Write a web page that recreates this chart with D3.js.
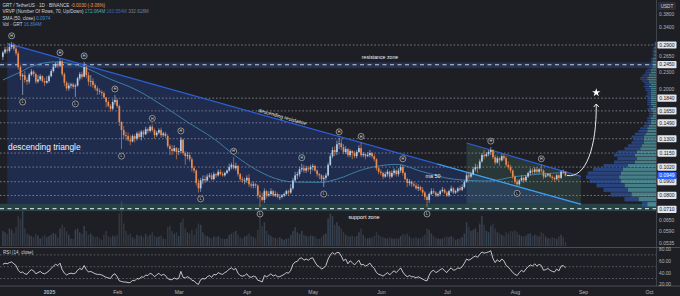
<!DOCTYPE html>
<html><head><meta charset="utf-8">
<script src="https://cdn.jsdelivr.net/npm/d3@7"></script>
<style>
html,body{margin:0;padding:0;background:#1e1f24;}
svg{display:block;font-family:"Liberation Sans",Arial,sans-serif;}
</style></head><body>
<svg id="c" width="680" height="296"></svg>
<script>
// ---------------- DATA ----------------
const startDate = "2024-12-11";
const firstOpen = 0.262;
const closes = [
0.272,0.279,0.276,0.285,0.290,0.281,0.270,0.240,0.222,0.224,0.215,0.212,0.225,0.231,0.226,0.212,0.216,0.222,0.213,0.210,0.213,
0.222,0.232,0.241,0.247,0.243,0.252,0.226,0.210,0.200,0.205,0.207,0.203,0.205,0.218,0.226,0.221,0.240,0.224,0.212,0.213,0.206,0.200,0.196,0.194,0.192,0.185,0.178,0.172,0.168,0.178,0.181,
0.172,0.150,0.140,0.134,0.133,0.129,0.127,0.133,0.130,0.136,0.132,0.138,0.135,0.141,0.139,0.144,0.140,0.134,0.137,0.140,0.134,0.136,0.133,0.122,0.119,0.117,0.120,0.116,
0.117,0.129,0.115,0.112,0.113,0.109,0.101,0.099,0.089,0.085,0.091,0.092,0.091,0.094,0.095,0.092,0.096,0.095,0.098,0.096,0.095,0.097,0.099,0.102,0.104,0.101,0.103,0.096,0.092,0.091,0.091,
0.093,0.088,0.087,0.088,0.087,0.080,0.079,0.077,0.083,0.080,0.081,0.083,0.080,0.081,0.079,0.079,0.080,0.081,0.083,0.082,0.085,0.091,0.095,0.096,0.100,0.101,0.099,0.101,0.100,0.102,
0.103,0.099,0.096,0.095,0.092,0.093,0.095,0.104,0.112,0.118,0.116,0.124,0.125,0.121,0.116,0.119,0.113,0.117,0.115,0.112,0.116,0.120,0.113,0.114,0.112,0.113,0.115,0.112,0.109,0.101,0.098,
0.097,0.094,0.096,0.098,0.094,0.097,0.099,0.096,0.099,0.102,0.097,0.092,0.089,0.090,0.088,0.087,0.085,0.086,0.084,0.082,0.079,0.077,0.081,0.083,0.082,0.080,0.081,0.083,0.084,0.082,
0.080,0.083,0.085,0.082,0.083,0.085,0.084,0.086,0.090,0.095,0.094,0.096,0.100,0.102,0.101,0.107,0.113,0.112,0.114,0.116,0.118,0.111,0.106,0.110,0.108,0.112,0.110,0.104,0.102,0.099,0.094,
0.090,0.088,0.091,0.093,0.091,0.094,0.097,0.099,0.098,0.100,0.098,0.100,0.099,0.094,0.095,0.096,0.094,0.093,0.092,0.095,0.093,0.098,0.0979,0.0949];
const highs = [
0.276,0.285,0.287,0.293,0.298,0.295,0.289,0.275,0.245,0.228,0.232,0.220,0.228,0.236,0.234,0.229,0.224,0.226,0.224,0.219,0.222,
0.225,0.236,0.245,0.250,0.252,0.258,0.256,0.229,0.213,0.210,0.210,0.210,0.208,0.221,0.230,0.231,0.251,0.243,0.230,0.224,0.218,0.209,0.204,0.200,0.197,0.195,0.186,0.181,0.175,0.182,0.189,
0.184,0.174,0.151,0.145,0.138,0.137,0.134,0.135,0.135,0.138,0.139,0.140,0.140,0.144,0.143,0.146,0.147,0.142,0.139,0.142,0.143,0.138,0.138,0.135,0.124,0.123,0.123,0.121,
0.120,0.132,0.130,0.117,0.116,0.116,0.111,0.103,0.100,0.092,0.093,0.095,0.095,0.096,0.097,0.097,0.098,0.097,0.100,0.100,0.098,0.098,0.100,0.105,0.106,0.111,0.106,0.104,0.097,0.094,0.093,
0.095,0.096,0.090,0.090,0.089,0.088,0.083,0.082,0.085,0.084,0.083,0.085,0.084,0.083,0.082,0.081,0.081,0.082,0.084,0.084,0.088,0.093,0.098,0.098,0.102,0.105,0.104,0.103,0.103,0.104,
0.105,0.104,0.100,0.097,0.096,0.095,0.097,0.106,0.115,0.121,0.122,0.128,0.131,0.130,0.124,0.122,0.120,0.119,0.118,0.117,0.118,0.123,0.126,0.116,0.115,0.116,0.118,0.116,0.114,0.110,0.102,
0.100,0.098,0.098,0.100,0.099,0.099,0.101,0.100,0.101,0.104,0.104,0.098,0.093,0.092,0.091,0.090,0.089,0.088,0.087,0.086,0.083,0.080,0.082,0.085,0.085,0.083,0.082,0.084,0.086,0.085,
0.083,0.084,0.087,0.086,0.084,0.086,0.087,0.088,0.091,0.097,0.098,0.098,0.102,0.105,0.104,0.109,0.115,0.118,0.116,0.118,0.121,0.119,0.113,0.112,0.111,0.114,0.114,0.112,0.107,0.104,0.100,
0.095,0.092,0.092,0.095,0.094,0.095,0.098,0.101,0.101,0.102,0.102,0.101,0.104,0.100,0.097,0.097,0.097,0.095,0.094,0.096,0.096,0.099,0.100,0.0985];
const lows = [
0.255,0.268,0.270,0.272,0.280,0.276,0.265,0.235,0.215,0.189,0.210,0.206,0.208,0.222,0.221,0.208,0.209,0.213,0.210,0.204,0.208,
0.210,0.220,0.229,0.238,0.238,0.240,0.222,0.204,0.196,0.196,0.200,0.199,0.186,0.203,0.214,0.216,0.220,0.218,0.205,0.203,0.201,0.196,0.189,0.190,0.187,0.183,0.170,0.170,0.164,0.166,0.174,
0.169,0.145,0.119,0.130,0.128,0.127,0.123,0.126,0.126,0.128,0.130,0.128,0.131,0.134,0.136,0.137,0.138,0.130,0.132,0.135,0.131,0.132,0.131,0.120,0.113,0.113,0.116,0.109,
0.113,0.115,0.113,0.104,0.109,0.107,0.098,0.097,0.087,0.082,0.0825,0.088,0.089,0.090,0.093,0.091,0.091,0.093,0.094,0.095,0.094,0.094,0.096,0.098,0.100,0.100,0.099,0.094,0.090,0.089,0.088,
0.089,0.086,0.085,0.085,0.085,0.078,0.0725,0.076,0.075,0.078,0.079,0.080,0.079,0.079,0.078,0.077,0.078,0.079,0.080,0.080,0.081,0.084,0.090,0.092,0.094,0.098,0.097,0.097,0.098,0.096,
0.099,0.098,0.094,0.092,0.090,0.086,0.091,0.094,0.103,0.110,0.112,0.113,0.119,0.118,0.114,0.114,0.111,0.111,0.109,0.110,0.110,0.115,0.111,0.111,0.109,0.111,0.111,0.110,0.107,0.099,0.096,
0.095,0.092,0.093,0.094,0.092,0.093,0.095,0.094,0.094,0.097,0.095,0.091,0.086,0.087,0.086,0.086,0.084,0.083,0.083,0.080,0.077,0.0725,0.075,0.080,0.081,0.079,0.079,0.080,0.082,0.081,
0.079,0.079,0.082,0.081,0.081,0.082,0.083,0.083,0.085,0.089,0.092,0.093,0.095,0.098,0.097,0.100,0.106,0.109,0.111,0.112,0.113,0.109,0.104,0.105,0.103,0.107,0.108,0.102,0.100,0.097,0.092,
0.088,0.0865,0.087,0.090,0.089,0.090,0.093,0.095,0.096,0.096,0.096,0.096,0.097,0.092,0.093,0.094,0.093,0.091,0.090,0.091,0.090,0.092,0.096,0.094];
const volumes = [ // millions
60,55,48,70,65,52,75,120,110,140,70,50,45,40,35,48,42,30,38,45,35,
40,45,52,48,35,70,85,75,60,45,30,28,65,70,55,48,80,60,45,50,40,35,38,30,25,45,60,40,35,42,38,
45,130,180,90,60,45,50,35,30,45,40,42,35,48,38,45,55,40,35,38,42,30,28,75,80,60,50,55,
40,95,110,70,55,50,65,45,70,90,85,55,45,40,35,30,38,35,40,32,30,28,30,45,50,55,60,45,35,30,38,
42,50,40,35,30,65,130,80,95,60,45,40,35,32,30,35,28,25,30,32,45,60,75,55,48,60,45,40,38,42,
40,38,30,28,35,45,50,110,130,120,85,95,80,70,55,45,40,38,42,35,40,55,70,45,35,30,32,35,40,55,45,
38,35,32,30,35,30,28,32,30,40,48,45,50,38,30,32,35,30,32,38,45,70,65,50,40,32,30,28,30,35,
38,35,40,32,25,28,30,35,50,95,75,60,65,70,55,90,120,85,60,55,80,90,70,55,50,45,40,55,50,60,58,
62,55,45,40,38,42,48,50,40,45,42,38,55,50,38,32,30,35,32,28,38,45,35,17];
const rsiValues = [
54,56,55,57,58,55,52,44,40,41,38,37,42,45,43,38,40,42,39,38,40,
43,47,51,54,52,56,45,39,36,38,39,38,39,44,47,45,52,45,41,42,40,38,37,37,36,34,32,31,30,36,38,
33,26,25,24,24,23,23,27,26,30,29,33,32,36,35,39,37,33,36,39,35,37,35,30,28,28,31,29,
30,42,32,31,33,31,27,26,22,20,28,30,29,33,35,32,37,36,40,38,37,40,42,46,48,45,47,39,35,34,35,
38,33,32,34,33,27,26,24,35,33,35,38,34,36,33,33,35,37,40,39,44,54,58,59,64,65,61,63,61,64,
65,58,52,50,46,48,52,63,70,74,71,74,74,68,60,63,55,60,57,53,57,61,53,54,51,53,56,51,47,40,37,
36,34,37,40,36,40,43,40,44,48,41,36,33,35,33,33,31,33,31,29,27,26,36,42,44,40,42,45,47,43,
40,45,48,44,45,48,47,50,56,63,61,63,66,68,66,71,75,73,74,75,77,64,57,62,58,63,60,52,49,45,40,
37,35,40,44,41,46,50,53,51,55,51,54,52,44,45,47,44,42,41,46,43,51,52,48];
const smaDates = ["2024-12-11","2024-12-18","2024-12-25","2025-01-04","2025-01-16","2025-01-28","2025-02-10","2025-02-23","2025-03-05","2025-03-17","2025-03-27","2025-04-05","2025-04-17","2025-04-23","2025-05-05","2025-05-12","2025-05-24","2025-06-08","2025-06-20","2025-07-04","2025-07-20","2025-08-01","2025-08-12","2025-08-24"];
const smaValues = [0.215,0.228,0.243,0.251,0.241,0.218,0.197,0.170,0.150,0.130,0.112,0.100,0.091,0.0897,0.0895,0.092,0.100,0.1044,0.098,0.092,0.0905,0.094,0.096,0.0974];

const boxedLevels = [0.2900,0.2450,0.1840,0.1650,0.1490,0.1300,0.1150,0.1020,0.0900,0.0800,0.0710];
const dottedLevels = [0.2900,0.1840,0.1650,0.1490,0.1300,0.1150,0.1020,0.0900,0.0800];
const priceTicks = [0.3800,0.3400,0.2650,0.2300,0.2000,0.0650,0.0590,0.0535];
const resistanceZone = [0.2500,0.2380,0.2450];   // top, bottom, line
const supportZone = [0.0745,0.0700,0.0715];
const lastPrice = 0.0949;

const monthTicks = ["2025-01-01","2025-02-01","2025-03-01","2025-04-01","2025-05-01","2025-06-01","2025-07-01","2025-08-01","2025-09-01","2025-10-01"];
const monthLabels = ["2025","Feb","Mar","Apr","May","Jun","Jul","Aug","Sep","Oct"];
const rsiTicks = [80,60,40,20];
const rsiBands = [70,50,30];

const highMarks = ["2024-12-15","2025-01-06","2025-01-17","2025-01-31","2025-02-17","2025-03-02","2025-03-26","2025-04-26","2025-05-13","2025-05-23","2025-06-11","2025-07-21","2025-08-13"];
const lowMarks = ["2024-12-20","2025-01-13","2025-02-03","2025-03-11","2025-04-07","2025-05-06","2025-06-22","2025-08-02"];

const resistanceLine = [["2024-12-13",0.294],["2025-08-31",0.0742]];
const wedgeTop = [["2025-07-10",0.1253],["2025-08-31",0.0942]];
const arrowTarget = ["2025-09-07",0.175];
const starPoint = ["2025-09-07",0.193];

const vpBase = 0.0725, vpStep = 0.00322;
const vpUp = [5,10,14,16,18,20,21,20,19,16,12,11,12,11,9,8,7,7,7,6,5,5,4,3,3,3,2,2,2,3,2,3,3,3,3,3,3,3,3,3,4,3,4,4,5,5,4,4,3,3,3,2,2,2,2,2,2,2,1,1,1,1,1,1,1,1,0.5,0.5,0.5,0.5];
const vpDown = [3,8,12,14,16,18,19,19,17,14,12,11,12,11,9,8,7,6,7,6,5,4,3,3,2,2,2,2,2,2,2,2,2,2,2,3,2,2,3,3,3,3,3,4,4,4,4,3,3,3,2,2,2,2,1,1,1,1,1,1,1,1,1,1,1,0.5,0.5,0.5,0.5,0.5];

// ---------------- CHART ----------------
const svg = d3.select("#c");
const W = 680, H = 296, PANE_R = 656, MAIN_B = 247.5, RSI_B = 286;
const parse = d3.timeParse("%Y-%m-%d");
const t0 = parse(startDate);
const x = d3.scaleTime().domain([parse("2025-01-01"), parse("2025-10-01")]).range([49, 649]);
const y = d3.scaleLog().domain([0.29, 0.071]).range([45, 209.4]);
const yVol = d3.scaleLinear().domain([0, 160]).range([246, 206]);
const yRsi = d3.scaleLinear().domain([20, 80]).range([284.4, 249]);
const xVp = d3.scaleLinear().domain([0, 40]).range([0, 70]);

const candles = closes.map((c, i) => ({
  date: d3.timeDay.offset(t0, i), o: i === 0 ? firstOpen : closes[i - 1],
  h: highs[i], l: lows[i], c, v: volumes[i], r: rsiValues[i]
}));
const byKey = new Map(candles.map(d => [d3.timeFormat("%Y-%m-%d")(d.date), d]));

svg.append("rect").attr("width", W).attr("height", H).attr("fill", "#1e1f24");
svg.append("defs").append("clipPath").attr("id", "mainClip")
  .append("rect").attr("x", 0).attr("y", 0).attr("width", PANE_R).attr("height", MAIN_B);
const main = svg.append("g").attr("clip-path", "url(#mainClip)");

const P = ([d, p]) => [x(parse(d)), y(p)];
const rA = P(resistanceLine[0]), rB = P(resistanceLine[1]);
const wA = P(wedgeTop[0]), wB = P(wedgeTop[1]);
const ySupTop = y(supportZone[0]);

// triangle fill
main.append("path")
  .attr("d", `M${rA[0]},${rA[1]}L${rB[0]},${rB[1]}L${rB[0]},${ySupTop}L${rA[0]},${ySupTop}Z`)
  .attr("fill", "rgba(36,72,165,0.33)");
// wedge fill
main.append("path")
  .attr("d", `M${wA[0]},${wA[1]}L${wB[0]},${wB[1]}L${wB[0]},${ySupTop}L${wA[0]},${ySupTop}Z`)
  .attr("fill", "rgba(80,140,125,0.22)");

// zones
main.append("rect").attr("x", 0).attr("width", PANE_R)
  .attr("y", y(resistanceZone[0])).attr("height", y(resistanceZone[1]) - y(resistanceZone[0]))
  .attr("fill", "rgba(45,85,170,0.35)");
main.append("rect").attr("x", 0).attr("width", PANE_R)
  .attr("y", y(supportZone[0])).attr("height", y(supportZone[1]) - y(supportZone[0]))
  .attr("fill", "rgba(55,125,125,0.38)");
[resistanceZone[2], supportZone[2]].forEach(p => {
  main.append("line").attr("x1", 0).attr("x2", PANE_R).attr("y1", y(p)).attr("y2", y(p))
    .attr("stroke", "#c9cdd6").attr("stroke-width", 1.1).attr("stroke-dasharray", "4,3.5");
});
// dotted levels
main.selectAll("line.lvl").data(dottedLevels).join("line").attr("class", "lvl")
  .attr("x1", 0).attr("x2", PANE_R).attr("y1", d => y(d)).attr("y2", d => y(d))
  .attr("stroke", "#8d9099").attr("stroke-width", 0.8).attr("stroke-dasharray", "1.6,2");

// volume
const bw = 1.5;
main.selectAll("rect.vol").data(candles).join("rect").attr("class", "vol")
  .attr("x", d => x(d.date) - bw / 2).attr("width", bw)
  .attr("y", d => yVol(d.v)).attr("height", d => yVol(0) - yVol(d.v))
  .attr("fill", d => d.c >= d.o ? "rgba(110,140,175,0.32)" : "rgba(105,118,138,0.28)");

// VRVP
const vpRows = vpUp.map((u, i) => ({ lo: vpBase + i * vpStep, hi: vpBase + (i + 1) * vpStep, u, d: vpDown[i] }));
const vp = main.append("g");
vp.selectAll("rect.up").data(vpRows).join("rect")
  .attr("x", d => PANE_R - xVp(d.u)).attr("width", d => xVp(d.u))
  .attr("y", d => y(d.hi)).attr("height", d => Math.max(0.4, y(d.lo) - y(d.hi) - 0.5))
  .attr("fill", "rgba(88,168,180,0.7)");
vp.selectAll("rect.dn").data(vpRows).join("rect")
  .attr("x", d => PANE_R - xVp(d.u) - xVp(d.d)).attr("width", d => xVp(d.d))
  .attr("y", d => y(d.hi)).attr("height", d => Math.max(0.4, y(d.lo) - y(d.hi) - 0.5))
  .attr("fill", "rgba(45,82,155,0.75)");

// SMA
const smaPts = smaDates.map((d, i) => [x(parse(d)), y(smaValues[i])]);
main.append("path").attr("d", d3.line().curve(d3.curveMonotoneX)(smaPts))
  .attr("fill", "none").attr("stroke", "#3f88ad").attr("stroke-width", 0.9);

// resistance line & wedge
main.append("line").attr("x1", rA[0]).attr("y1", rA[1]).attr("x2", rB[0]).attr("y2", rB[1])
  .attr("stroke", "#2c5fd8").attr("stroke-width", 1.3);
const cy0 = d3.interpolateArray(rA, rB)(0.75);
main.append("line").attr("x1", cy0[0]).attr("y1", cy0[1]).attr("x2", rB[0]).attr("y2", rB[1])
  .attr("stroke", "#3ea2dc").attr("stroke-width", 1.2);
main.append("line").attr("x1", wA[0]).attr("y1", wA[1]).attr("x2", wB[0]).attr("y2", wB[1])
  .attr("stroke", "#2c5fd8").attr("stroke-width", 1.2);

// candles
const UP = "#b3cde8", DN = "#ec8b4f";
main.selectAll("line.wick").data(candles).join("line")
  .attr("x1", d => x(d.date)).attr("x2", d => x(d.date))
  .attr("y1", d => y(Math.max(d.h, d.o, d.c))).attr("y2", d => y(Math.min(d.l, d.o, d.c)))
  .attr("stroke", d => d.c >= d.o ? UP : DN).attr("stroke-width", 0.6);
main.selectAll("rect.body").data(candles).join("rect")
  .attr("x", d => x(d.date) - 0.85).attr("width", 1.7)
  .attr("y", d => y(Math.max(d.o, d.c)))
  .attr("height", d => Math.max(0.7, y(Math.min(d.o, d.c)) - y(Math.max(d.o, d.c))))
  .attr("fill", d => d.c >= d.o ? UP : DN);

// pivot markers
function marker(cx, cyv, letter) {
  const g = main.append("g");
  g.append("circle").attr("cx", cx).attr("cy", cyv).attr("r", 3)
    .attr("fill", "#1e1f24").attr("stroke", "#d6d8de").attr("stroke-width", 0.6);
  g.append("text").attr("x", cx).attr("y", cyv + 1.3).attr("text-anchor", "middle")
    .attr("font-size", 3.6).attr("fill", "#e6e8ee").text(letter);
}
highMarks.forEach(k => { const d = byKey.get(k); if (d) marker(x(d.date), y(d.h) - 6, "H"); });
lowMarks.forEach(k => { const d = byKey.get(k); if (d) marker(x(d.date), y(d.l) + 7, "L"); });

// annotation texts
const ang = Math.atan2(rB[1] - rA[1], rB[0] - rA[0]) * 180 / Math.PI;
const tP = [282, rA[1] + (282 - rA[0]) * (rB[1] - rA[1]) / (rB[0] - rA[0]) - 2];
main.append("text").attr("transform", `translate(${tP[0]},${tP[1]}) rotate(${ang})`)
  .attr("text-anchor", "middle").attr("font-size", 5).attr("fill", "#e8eaf0").text("descending resistance");
main.append("text").attr("x", 8).attr("y", 150).attr("font-size", 8.4).attr("fill", "#f2f3f6")
  .attr("font-weight", 500).text("descending triangle");
main.append("text").attr("x", 433).attr("y", 177.5).attr("text-anchor", "middle")
  .attr("font-size", 5.4).attr("fill", "#eef0f4").text("ma 50");
main.append("text").attr("x", 364).attr("y", 219).attr("text-anchor", "middle")
  .attr("font-size", 5.4).attr("fill", "#eef0f4").text("support zone");
main.append("text").attr("x", 380).attr("y", 59.3).attr("text-anchor", "middle")
  .attr("font-size", 5.2).attr("fill", "#eef0f4").text("resistance zone");

// projection arrow
const last = candles[candles.length - 1];
const s = [x(last.date) + 1.5, y(last.c)];
const e = [x(parse(arrowTarget[0])), y(arrowTarget[1])];
main.append("path")
  .attr("d", `M${s[0]},${s[1]}C${s[0] + 0.65 * (e[0] - s[0])},${s[1] + 3} ${e[0] + 0.5},${e[1] + 0.6 * (s[1] - e[1])} ${e[0]},${e[1]}`)
  .attr("fill", "none").attr("stroke", "#e4e6ea").attr("stroke-width", 1);
main.append("path").attr("d", `M${e[0] - 2.6},${e[1] + 3}L${e[0]},${e[1]}L${e[0] + 2.6},${e[1] + 3}`)
  .attr("fill", "none").attr("stroke", "#e4e6ea").attr("stroke-width", 1);
main.append("path").attr("d", d3.symbol(d3.symbolStar, 22)())
  .attr("transform", `translate(${x(parse(starPoint[0]))},${y(starPoint[1])})`).attr("fill", "#ffffff");

// ---------------- AXES ----------------
svg.append("line").attr("x1", PANE_R + 0.5).attr("x2", PANE_R + 0.5).attr("y1", 0).attr("y2", RSI_B)
  .attr("stroke", "#4a4d56").attr("stroke-width", 0.8);
[MAIN_B, RSI_B].forEach(v => svg.append("line").attr("x1", 0).attr("x2", W).attr("y1", v).attr("y2", v)
  .attr("stroke", "#50535c").attr("stroke-width", 0.9));

const pAxis = svg.append("g").attr("transform", `translate(${PANE_R + 2},0)`)
  .call(d3.axisRight(y).tickValues(priceTicks).tickFormat(d3.format(".4f")).tickSize(0).tickPadding(1));
pAxis.select(".domain").remove();
pAxis.selectAll("text").attr("font-size", 5).attr("fill", "#b2b5be").attr("font-family", "Liberation Sans, Arial, sans-serif");

const lvlG = svg.append("g");
boxedLevels.forEach(p => {
  lvlG.append("rect").attr("x", PANE_R + 1.5).attr("y", y(p) - 3.6).attr("width", 19).attr("height", 7.2)
    .attr("rx", 0.8).attr("fill", "#e3e5eb");
  lvlG.append("text").attr("x", PANE_R + 11).attr("y", y(p) + 1.8).attr("text-anchor", "middle")
    .attr("font-size", 5).attr("fill", "#131722").text(d3.format(".4f")(p));
});
lvlG.append("rect").attr("x", PANE_R + 1.5).attr("y", y(lastPrice) - 3.6).attr("width", 19).attr("height", 7.2)
  .attr("rx", 0.8).attr("fill", "#2962ff");
lvlG.append("text").attr("x", PANE_R + 11).attr("y", y(lastPrice) + 1.8).attr("text-anchor", "middle")
  .attr("font-size", 5).attr("fill", "#ffffff").text(d3.format(".4f")(lastPrice));
lvlG.append("rect").attr("x", PANE_R + 2).attr("y", 2).attr("width", 18).attr("height", 8)
  .attr("rx", 1).attr("fill", "#2b2e36");
lvlG.append("text").attr("x", PANE_R + 11).attr("y", 7.8).attr("text-anchor", "middle")
  .attr("font-size", 4.6).attr("fill", "#d1d4dc").text("USDT");

// RSI pane
svg.selectAll("line.rb").data(rsiBands).join("line")
  .attr("x1", 0).attr("x2", PANE_R).attr("y1", d => yRsi(d)).attr("y2", d => yRsi(d))
  .attr("stroke", "#767983").attr("stroke-width", 0.7).attr("stroke-dasharray", "1.6,2");
svg.append("path").attr("d", d3.line().x(d => x(d.date)).y(d => yRsi(d.r))(candles))
  .attr("fill", "none").attr("stroke", "#eceef2").attr("stroke-width", 0.8);
const rAxis = svg.append("g").attr("transform", `translate(${PANE_R + 2},0)`)
  .call(d3.axisRight(yRsi).tickValues(rsiTicks).tickFormat(d3.format(".2f")).tickSize(0).tickPadding(1));
rAxis.select(".domain").remove();
rAxis.selectAll("text").attr("font-size", 4.8).attr("fill", "#b2b5be").attr("font-family", "Liberation Sans, Arial, sans-serif");
svg.append("text").attr("x", 3).attr("y", 254).attr("font-size", 4.6).attr("fill", "#d1d4dc").text("RSI (14, close)");

// time axis
const tAxis = svg.append("g").attr("transform", `translate(0,${RSI_B})`)
  .call(d3.axisBottom(x).tickValues(monthTicks.map(parse))
    .tickFormat((d, i) => monthLabels[i]).tickSize(0).tickPadding(4));
tAxis.select(".domain").remove();
tAxis.selectAll("text").attr("font-size", 5.2).attr("fill", "#b2b5be").attr("font-family", "Liberation Sans, Arial, sans-serif")
  .attr("font-weight", (d, i) => i === 0 ? 700 : 400);

// header legend
const hdr = svg.append("g").attr("font-size", 4.6);
const hline = (yy, parts) => {
  const t = hdr.append("text").attr("x", 2.5).attr("y", yy);
  parts.forEach(([txt, col]) => t.append("tspan").attr("fill", col).text(txt));
};
hline(7, [["GRT / TetherUS · 1D · BINANCE  ", "#d1d4dc"], ["-0.0030 (-3.06%)", "#f5984e"]]);
hline(13.3, [["VRVP (Number Of Rows, 70, Up/Down)  ", "#d1d4dc"], ["172.064M  ", "#4ea7b8"], ["160.554M  ", "#3f67b6"], ["332.618M", "#7d828c"]]);
hline(19.6, [["SMA (50, close)  ", "#d1d4dc"], ["0.0974", "#3b8fdc"]]);
hline(25.9, [["Vol · GRT  ", "#d1d4dc"], ["16.894M", "#4f80c4"]]);
</script>
</body></html>
